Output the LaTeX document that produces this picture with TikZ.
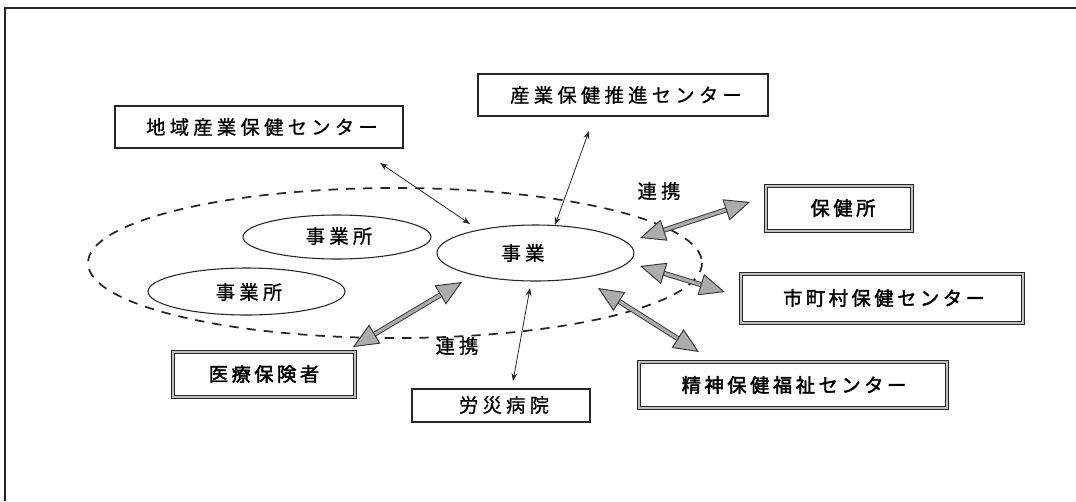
\documentclass[tikz,border=0pt]{standalone}
\usepackage{fontspec}
\newfontfamily\jp[LetterSpace=22,FakeBold=0.8]{Noto Sans CJK JP}
\newfontfamily\jpb[LetterSpace=18,FakeBold=2]{Noto Sans CJK JP}
\usetikzlibrary{arrows.meta,calc,shapes.geometric}
\tikzset{
  thinbox/.style={draw=black!85, line width=0.8pt, fill=white},
  dblbox/.style={draw=black!85, line width=0.7pt, double=gray!50, double distance=1.8pt, fill=white},
  oval/.style={ellipse, draw=black!85, line width=0.8pt, inner sep=0pt},
  lbl/.style={font=\jp\fontsize{14.5pt}{16pt}\selectfont, inner sep=0pt},
  lblb/.style={font=\jpb\fontsize{14.5pt}{16pt}\selectfont, inner sep=0pt},
  thinarrow/.style={draw=black!85, line width=0.6pt, {Stealth[length=6pt,width=4.5pt]}-{Stealth[length=6pt,width=4.5pt]}},
  shaft/.style={draw=black!80, line width=0.7pt, double=gray!65, double distance=2.4pt},
  bighead/.style={draw=black!80, line width=0.7pt, -{Triangle[length=19pt,width=16.5pt,fill=gray!65]}},
}
\newcommand{\thickarr}[2]{%
  \draw[shaft] ($(#1)!15pt!(#2)$) -- ($(#2)!15pt!(#1)$);
  \draw[bighead] ($(#2)!19pt!(#1)$) -- (#2);
  \draw[bighead] ($(#1)!19pt!(#2)$) -- (#1);
}
\begin{document}
\begin{tikzpicture}[x=0.75pt,y=-0.75pt]
\useasboundingbox (0,0) rectangle (1076,501);
\fill[white] (0,0) rectangle (1076,501);
% frame
\draw[black!85, line width=1.1pt] (1076,8) -- (5,8) -- (5,501);

% dashed outer ellipse
\draw[black!85, line width=1.3pt, dash pattern=on 7pt off 6pt] (395,263) ellipse [x radius=307, y radius=75];

% ovals
\node[oval, minimum width=188*0.75pt, minimum height=44*0.75pt] (jo1) at (337,237) {};
\node[lbl] at (339,236) {事業所};
\node[oval, minimum width=197*0.75pt, minimum height=47*0.75pt] (jo2) at (246.5,291.5) {};
\node[lbl] at (249,292) {事業所};
\node[oval, minimum width=197*0.75pt, minimum height=56*0.75pt] (jg) at (535.5,253) {};
\node[lbl] at (523,253) {事業};

% thin boxes
\draw[thinbox] (115,106) rectangle (403,148);
\node[lbl] (chiiki) at (262,127) {地域産業保健センター};
\draw[thinbox] (478,74) rectangle (768,116);
\node[lbl] (suishin) at (626,95) {産業保健推進センター};
\draw[thinbox] (412,389) rectangle (590,422);
\node[lbl] (rousai) at (504,405) {労災病院};

% double boxes
\draw[dblbox] (766,186) rectangle (912,231);
\node[lblb] (hokenjo) at (843,208) {保健所};
\draw[dblbox] (741,274) rectangle (1023,323);
\node[lblb] (shicho) at (884,298) {市町村保健センター};
\draw[dblbox] (639,362) rectangle (947,408);
\node[lblb] (seishin) at (794,385) {精神保健福祉センター};
\draw[dblbox] (173,352) rectangle (355,397);
\node[lblb] (iryo) at (264,374) {医療保険者};

% labels
\node[lbl] (renkei1) at (659,191) {連携};
\node[lbl] (renkei2) at (457,346) {連携};

% thin arrows
\coordinate (a1) at (380,163); \coordinate (b1) at (470,224);
\coordinate (a2) at (589,131); \coordinate (b2) at (555,225);
\coordinate (a3) at (530,288); \coordinate (b3) at (513,381);
\draw[thinarrow] (a1) -- (b1);
\draw[thinarrow] (a2) -- (b2);
\draw[thinarrow] (a3) -- (b3);

% thick arrows
\coordinate (c1) at (640,238); \coordinate (d1) at (750,202);
\coordinate (c2) at (640,266); \coordinate (d2) at (725,292);
\coordinate (c3) at (598,288); \coordinate (d3) at (699,352);
\coordinate (c4) at (462,282); \coordinate (d4) at (353,347);
\thickarr{c1}{d1}
\thickarr{c2}{d2}
\thickarr{c3}{d3}
\thickarr{c4}{d4}
\end{tikzpicture}
\end{document}
